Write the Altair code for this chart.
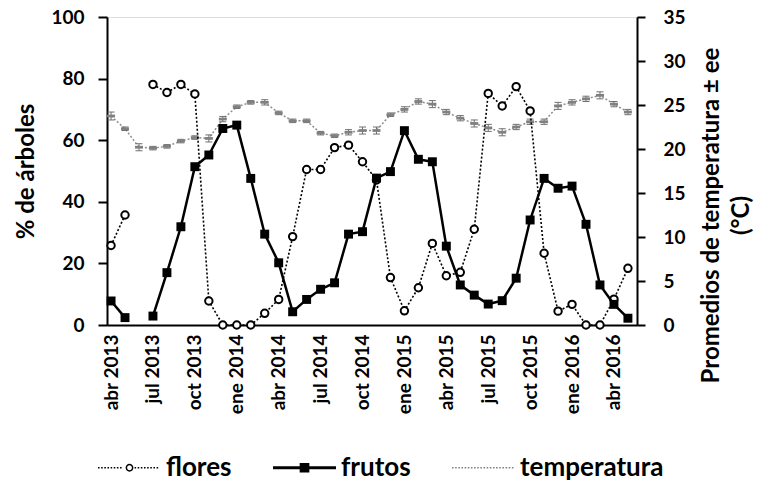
import altair as alt
import pandas as pd

# ---------------- data ----------------
meses = [
    "abr 2013", "may 2013", "jun 2013", "jul 2013", "ago 2013", "sep 2013",
    "oct 2013", "nov 2013", "dic 2013",
    "ene 2014", "feb 2014", "mar 2014", "abr 2014", "may 2014", "jun 2014",
    "jul 2014", "ago 2014", "sep 2014", "oct 2014", "nov 2014", "dic 2014",
    "ene 2015", "feb 2015", "mar 2015", "abr 2015", "may 2015", "jun 2015",
    "jul 2015", "ago 2015", "sep 2015", "oct 2015", "nov 2015", "dic 2015",
    "ene 2016", "feb 2016", "mar 2016", "abr 2016", "may 2016",
]
flores = [25.8, 35.7, None, 78.1, 75.5, 78.1, 75.0, 7.8, 0, 0, 0, 3.8, 8.3,
          28.7, 50.5, 50.5, 57.6, 58.4, 53.0, 47.1, 15.4, 4.6, 12.1, 26.5,
          16.0, 17.1, 31.1, 75.2, 71.1, 77.4, 69.5, 23.3, 4.5, 6.7, 0, 0,
          8.4, 18.4]
frutos = [7.8, 2.4, None, 2.9, 17.0, 31.9, 51.4, 55.2, 63.8, 64.9, 47.6,
          29.5, 20.2, 4.3, 8.3, 11.6, 13.7, 29.5, 30.3, 47.7, 49.8, 63.1,
          53.8, 53.0, 25.6, 13.0, 9.7, 6.8, 7.9, 15.2, 34.1, 47.6, 44.4,
          45.1, 32.7, 13.0, 6.7, 2.2]
temperatura = [23.75, 22.3, 20.2, 20.1, 20.3, 20.9, 21.3, 21.2, 23.4, 24.8,
               25.3, 25.3, 24.1, 23.2, 23.2, 21.8, 21.5, 21.9, 22.1, 22.1,
               23.9, 24.5, 25.4, 25.1, 24.2, 23.5, 22.9, 22.4, 21.9, 22.5,
               23.1, 23.1, 24.9, 25.3, 25.7, 26.1, 25.1, 24.2]
ee = [0.45, 0.2, 0.4, 0.2, 0.2, 0.2, 0.2, 0.4, 0.3, 0.2, 0.2, 0.3, 0.2, 0.2,
      0.2, 0.2, 0.2, 0.3, 0.4, 0.4, 0.2, 0.3, 0.3, 0.4, 0.3, 0.3, 0.4, 0.4,
      0.4, 0.3, 0.3, 0.3, 0.4, 0.3, 0.3, 0.4, 0.3, 0.3]
series = ["flores", "frutos", "temperatura"]
tick_months = list(range(0, 37, 3))

# ---------------- tables ----------------
df = pd.DataFrame({
    "i": list(range(len(meses))),
    "mes": meses,
    "flores": flores,
    "frutos": frutos,
    "temp": temperatura,
    "ee": ee,
})
df["tmin"] = df["temp"] - df["ee"]
df["tmax"] = df["temp"] + df["ee"]
df["seg_fl"] = df["flores"].isna().cumsum()
df["seg_fr"] = df["frutos"].isna().cumsum()
df_fl = df.dropna(subset=["flores"])
df_fr = df.dropna(subset=["frutos"])

FONT = "Lato"

label_expr = "[" + ",".join("'%s'" % m for m in meses) + "][datum.value]"

x_enc = alt.X(
    "i:Q",
    scale=alt.Scale(domain=[-0.29, 37.65], nice=False, zero=False),
    axis=alt.Axis(
        values=tick_months, labelExpr=label_expr, labelAngle=270,
        labelAlign="right", labelBaseline="middle", labelPadding=9,
        labelFont=FONT, labelFontSize=19, labelFontWeight="bold",
        labelColor="black", ticks=False, grid=False, title=None,
        domainColor="black", domainWidth=2, labelOverlap=False,
    ),
)

left_axis = alt.Axis(
    orient="left", values=[0, 20, 40, 60, 80, 100], grid=False,
    title="% de árboles", titleFont=FONT, titleFontSize=24,
    titleFontWeight="bold", titleColor="black", titleAngle=270,
    titleAlign="center", titleBaseline="middle", titleX=-81, titleY=154,
    labelFont=FONT, labelFontSize=19, labelFontWeight="bold",
    labelColor="black", labelPadding=14, tickSize=9, tickWidth=2,
    tickColor="black", domainColor="black", domainWidth=2,
)
right_axis = alt.Axis(
    orient="right", values=[0, 5, 10, 15, 20, 25, 30, 35], grid=False,
    title=["Promedios de temperatura ± ee", "(°C)"], titleFont=FONT,
    titleFontSize=24, titleFontWeight="bold", titleColor="black",
    titleAngle=270, titleAlign="center", titleBaseline="middle",
    titleX=74, titleY=198, titleLineHeight=30,
    labelFont=FONT, labelFontSize=19, labelFontWeight="bold",
    labelColor="black", labelPadding=18, tickSize=8, tickWidth=2,
    tickColor="black", domainColor="black", domainWidth=2,
)
yl_scale = alt.Scale(domain=[0, 100], nice=False)
yr_scale = alt.Scale(domain=[0, 35], nice=False)

# ---------------- temperature (right axis) ----------------
base_t = alt.Chart(df)
dash_path = "M-1,-0.35H1V0.35H-1Z"
t_line = base_t.mark_line(color="#8c8c8c", strokeDash=[2, 2], strokeWidth=1.5).encode(
    x=x_enc, y=alt.Y("temp:Q", scale=yr_scale, axis=right_axis))
t_rule = base_t.mark_rule(color="#6f6f6f", strokeWidth=1).encode(
    x=x_enc, y=alt.Y("tmin:Q", scale=yr_scale, axis=right_axis), y2="tmax:Q")
t_cap1 = base_t.mark_tick(orient="horizontal", size=7, thickness=1, color="#6f6f6f", opacity=1).encode(
    x=x_enc, y=alt.Y("tmin:Q", scale=yr_scale, axis=right_axis))
t_cap2 = base_t.mark_tick(orient="horizontal", size=7, thickness=1, color="#6f6f6f", opacity=1).encode(
    x=x_enc, y=alt.Y("tmax:Q", scale=yr_scale, axis=right_axis))
t_pts = base_t.mark_point(shape=dash_path, size=64, filled=True, color="#808080", opacity=1).encode(
    x=x_enc, y=alt.Y("temp:Q", scale=yr_scale, axis=right_axis))
right = alt.layer(t_line, t_rule, t_cap1, t_cap2, t_pts)

# ---------------- flores / frutos (left axis) ----------------
fl_line = alt.Chart(df_fl).mark_line(color="black", strokeDash=[2, 2], strokeWidth=1.6).encode(
    x=x_enc, y=alt.Y("flores:Q", scale=yl_scale, axis=left_axis), detail="seg_fl:N")
fl_pts = alt.Chart(df_fl).mark_point(shape="circle", size=55, filled=False, fill="white",
                                     stroke="black", strokeWidth=2, opacity=1).encode(
    x=x_enc, y=alt.Y("flores:Q", scale=yl_scale, axis=left_axis))
fr_line = alt.Chart(df_fr).mark_line(color="black", strokeWidth=2.5).encode(
    x=x_enc, y=alt.Y("frutos:Q", scale=yl_scale, axis=left_axis), detail="seg_fr:N")
fr_pts = alt.Chart(df_fr).mark_point(shape="square", size=80, filled=True, color="black", opacity=1).encode(
    x=x_enc, y=alt.Y("frutos:Q", scale=yl_scale, axis=left_axis))

# ---------------- legend (symbols only, no marks drawn) ----------------
def dots(a, b, step=0.1, length=0.05):
    out = []
    v = a
    while v + length <= b + 1e-9:
        out.append("M%.3f,0h%.3f" % (v, length))
        v += step
    return "".join(out)

circ = "M0.1,0A0.1,0.1 0 1,1 -0.1,0A0.1,0.1 0 1,1 0.1,0Z"
p_flores = dots(-1, -0.16) + dots(0.16, 1) + circ
p_frutos = "M-1,-0.02H1M-1,0.02H1M-0.13,-0.13H0.13V0.13H-0.13Z"
p_temp = dots(-1, 1)

leg = alt.Legend(
    orient="none", legendX=-10, legendY=418, direction="horizontal",
    title=None, symbolSize=3969, symbolStrokeWidth=1.5, symbolOpacity=1,
    labelFont=FONT, labelFontSize=26, labelFontWeight="bold",
    labelColor="black", labelOffset=4, columnPadding=38, padding=0,
)
leg_df = pd.DataFrame({"serie": series})
legend_layer = alt.Chart(leg_df).mark_point(filled=False, opacity=1).encode(
    x=x_enc,
    y=alt.Y("y:Q", scale=yl_scale, axis=left_axis),
    shape=alt.Shape("serie:N", scale=alt.Scale(domain=series, range=[p_flores, p_frutos, p_temp]), legend=leg),
    fill=alt.Fill("serie:N", scale=alt.Scale(domain=series, range=["white", "black", "transparent"]), legend=leg),
    stroke=alt.Stroke("serie:N", scale=alt.Scale(domain=series, range=["black", "black", "#808080"]), legend=leg),
).transform_calculate(y="0").transform_filter("false")

left = alt.layer(fl_line, fl_pts, fr_line, fr_pts, legend_layer)

chart = alt.layer(right, left).resolve_scale(y="independent").properties(
    width=530, height=308,
    padding={"left": 107, "top": 17, "right": 122, "bottom": 160},
    autosize=alt.AutoSizeParams(type="none"),
).configure_view(stroke=None).configure(background="white")

chart.save("out.html", embed_options={"renderer": "svg", "actions": False})
